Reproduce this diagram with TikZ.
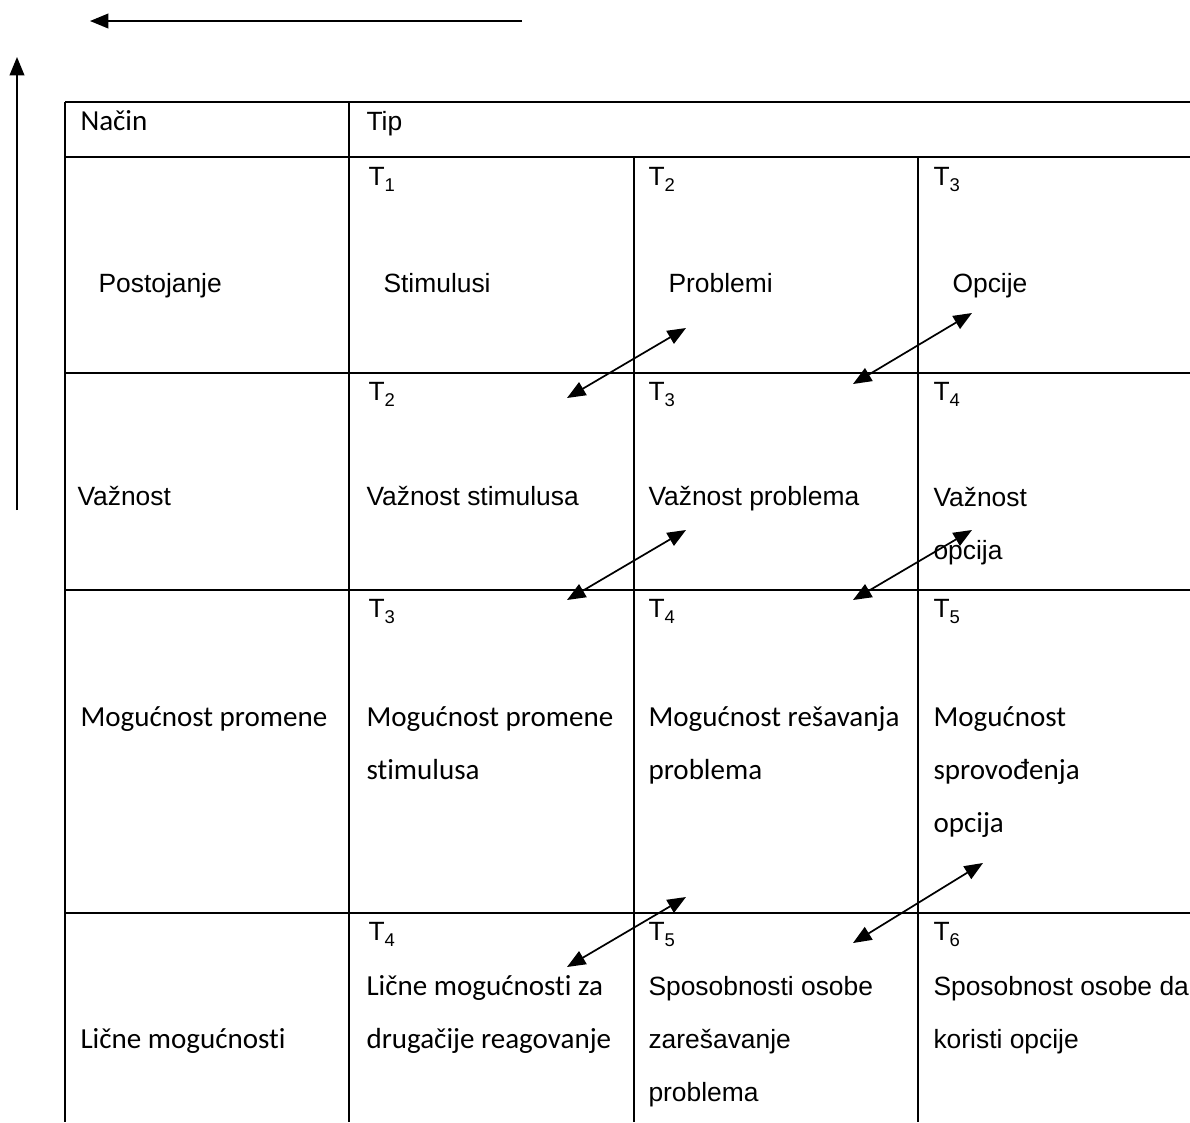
\documentclass[tikz,border=0pt]{standalone}
\usepackage{fontspec}
\setmainfont{Liberation Sans}
\newfontfamily\kalibri[Ligatures=NoCommon]{Carlito}
\usetikzlibrary{arrows.meta}
\newcommand\indeks[1]{\raisebox{-0.45ex}{\fontsize{7}{7}\selectfont #1}}
\tikzset{
    usko/.style={font=\fontsize{10}{20.08}\selectfont, anchor=base west, inner sep=0pt, align=left},
    kal/.style={font=\kalibri\fontsize{11}{20.08}\selectfont, anchor=base west, inner sep=0pt, align=left},
    linija/.style={line width=0.8pt},
    strelica/.style={line width=0.65pt, {Triangle[length=7pt,width=5.6pt]}-{Triangle[length=7pt,width=5.6pt]}},
    smer/.style={line width=0.65pt, -{Triangle[length=7pt,width=5.6pt]}}
}
\begin{document}
\begin{tikzpicture}[x=0.3788pt, y=-0.3788pt]
    \useasboundingbox (0, 0) rectangle (1190, 1122);
    % tabela
    \foreach \y in {102, 157, 373, 590, 913} {
        \draw[linija] (65, \y) -- (1190, \y);
    }
    \draw[linija] (65, 102) -- (65, 1122);
    \draw[linija] (349, 102) -- (349, 1122);
    \foreach \x in {634, 918} {
        \draw[linija] (\x, 157) -- (\x, 1122);
    }
    % strelice van tabele
    \coordinate (h1) at (522, 21); \coordinate (h2) at (90, 21);
    \draw[smer] (h1) -- (h2);
    \coordinate (v1) at (17, 510); \coordinate (v2) at (17, 57);
    \draw[smer] (v1) -- (v2);
    % zaglavlje
    \node[kal] (nacin) at (80, 130) {Način};
    \node[usko] (tip) at (366, 130) {Tip};
    % oznake T (osnova je poslednji red)
    \foreach \y [count=\r] in {185, 400, 617, 940} {
        \foreach \x [count=\c] in {368, 648, 933} {
            \pgfmathtruncatemacro\n{\r + \c - 1}
            \node[usko] (t\r\c) at (\x, \y) {T\indeks{\n}};
        }
    }
    % prvi red
    \node[usko] (postojanje) at (98, 292) {Postojanje};
    \node[usko] (stimulusi) at (383, 292) {Stimulusi};
    \node[usko] (problemi) at (668, 292) {Problemi};
    \node[usko] (opcije) at (952, 292) {Opcije};
    % drugi red
    \node[usko] (vaznost) at (77, 505) {Važnost};
    \node[usko] (vazstim) at (366, 505) {Važnost stimulusa};
    \node[usko] (vazprob) at (648, 505) {Važnost problema};
    \node[usko] (vazopc) at (933, 559) {Važnost\\opcija};
    % treci red
    \node[kal] (mogucnost) at (80, 726) {Mogućnost promene};
    \node[kal] (mogstim) at (366, 779) {Mogućnost promene\\stimulusa};
    \node[kal] (mogprob) at (648, 779) {Mogućnost rešavanja\\problema};
    \node[kal] (mogopc) at (933, 832) {Mogućnost\\sprovođenja\\opcija};
    % cetvrti red
    \node[kal] (licne) at (80, 1048) {Lične mogućnosti};
    \node[kal] (licstim) at (366, 1048) {Lične mogućnosti za\\drugačije reagovanje};
    \node[usko] (sposprob) at (648, 1101) {Sposobnosti osobe\\zarešavanje\\problema};
    \node[usko] (sposopc) at (933, 1048) {Sposobnost osobe da\\koristi opcije};
    % dvosmerne strelice
    \foreach \ax/\ay/\bx/\by [count=\i] in {567/398/686/328, 853/384/972/313,
            567/600/686/530, 853/600/972/530, 567/967/686/897, 853/943/983/863} {
        \coordinate (a\i) at (\ax, \ay);
        \coordinate (b\i) at (\bx, \by);
        \draw[strelica] (a\i) -- (b\i);
    }
\end{tikzpicture}
\end{document}
